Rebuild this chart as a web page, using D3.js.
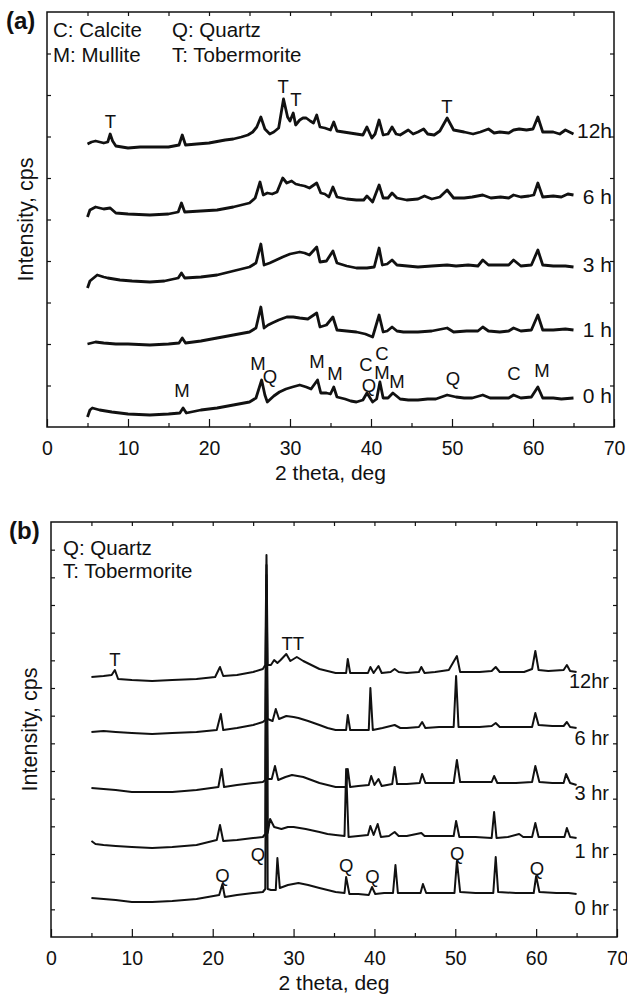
<!DOCTYPE html>
<html>
<head>
<meta charset="utf-8">
<script src="https://cdn.jsdelivr.net/npm/d3@7"></script>
<style>
  body { margin: 0; background: #fff; }
  svg text { font-family: "Liberation Sans", Arial, Helvetica, sans-serif; fill: #111; }
</style>
</head>
<body>
<svg id="chart" width="627" height="998"></svg>
<script>
// ---- data: [2theta, intensity (arbitrary units)] ----
const a12h = [[5,283],[5.5,285],[6,286],[7,284],[7.5,285],[7.8,293],[8.1,286],[8.5,281],[10,279],[11.5,280],[13,280],[15,280],[16.3,282],[16.7,292],[17.1,282],[18.5,283],[20,284],[22,287],[23,288],[24,290],[24.8,292],[25.4,295],[25.9,300],[26.4,310],[26.9,298],[27.5,293],[28,295],[28.6,299],[29.2,328],[29.7,310],[30,306],[30.4,314],[30.7,302],[31.2,307],[31.6,309],[32,309],[32.5,306],[32.9,304],[33.3,312],[33.7,300],[34.3,299],[35,297],[35.4,305],[35.8,296],[36.6,295],[37.4,294],[38.2,293],[39,292],[39.5,300],[40.1,289],[40.5,293],[41,307],[41.5,292],[42.1,293],[42.6,300],[43.1,293],[43.6,292],[44.6,297],[45.2,293],[45.8,295],[46.5,298],[47,293],[47.8,292],[48.5,296],[49.4,309],[50.2,297],[51.5,295],[52.6,293],[53.5,295],[54.5,298],[55.2,294],[55.9,295],[57,294],[57.6,297],[58.3,298],[59.2,297],[60,298],[60.6,310],[61.2,295],[62.5,295],[63.3,293],[64,297],[65,293]]
const a6h = [[5,210],[5.3,217],[6,220],[7,218],[7.8,219],[8.5,214],[10,213],[12.7,212],[15,213],[16.2,215],[16.6,224],[17,215],[19,216],[21,217],[23,220],[25,224],[25.7,229],[26.3,245],[26.7,232],[27.2,234],[27.8,233],[28.4,235],[29.1,249],[29.6,244],[30.2,246],[30.7,243],[31.2,242],[31.8,241],[32.4,239],[33.3,244],[33.8,234],[34.3,233],[34.8,230],[35.3,240],[35.8,230],[37,228],[38.2,227],[39.1,227],[39.5,231],[40.2,225],[41,242],[41.5,229],[42.1,229],[42.6,234],[43.2,229],[44.4,227],[45.8,228],[46.6,231],[47.5,228],[48.5,230],[49.4,237],[50.2,229],[51.5,229],[52.5,230],[53.8,232],[54.8,229],[56,230],[57,229],[57.6,232],[58.5,230],[59.5,231],[60.1,232],[60.6,244],[61.2,230],[62.5,231],[63.5,230],[64.3,233],[65,232]]
const a3h = [[5,139],[5.3,146],[5.6,148],[6.2,152],[7,150],[7.5,149],[9,147],[10.5,146],[12.7,145],[14.5,146],[16.2,149],[16.6,154],[17,149],[19,150],[21,152],[23,156],[25,160],[25.8,164],[26.4,183],[26.8,162],[27.5,164],[28.3,167],[29.1,170],[30,173],[31.2,175],[31.8,174],[32.4,172],[33.3,180],[33.7,165],[34.5,166],[35.3,176],[35.8,164],[37,161],[38.2,159],[39.5,159],[40.4,160],[41,179],[41.4,162],[42,163],[42.6,167],[43.2,162],[44.5,161],[45.8,160],[47.5,161],[49.4,162],[50.5,161],[52,162],[53.2,161],[53.8,167],[54.5,162],[55.9,162],[57,162],[57.6,167],[58.5,161],[59.8,162],[60.6,177],[61.2,162],[62.5,161],[64,161],[65,160]]
const a1h = [[5,83],[5.5,84],[6,85],[7,84],[8.5,83],[10,83],[12.7,82],[15,83],[16.3,84],[16.7,89],[17.1,84],[19,86],[21,89],[23,92],[25,95],[25.8,99],[26.4,120],[26.8,99],[27.3,102],[27.8,104],[28.6,107],[29.6,110],[30.4,110],[31.2,109],[32.2,108],[33.3,114],[33.7,100],[34.5,102],[35.3,110],[35.8,97],[37,96],[38.2,95],[39.3,93],[40.2,90],[41,112],[41.5,95],[42,96],[42.6,100],[43.2,96],[44,95],[45.8,95],[47.5,96],[49.4,99],[50.2,95],[51.8,96],[53.2,96],[53.8,100],[54.5,96],[55.9,95],[57,96],[57.6,99],[58.5,96],[59.8,97],[60.6,112],[61.2,97],[62.5,97],[64,98],[65,97]]
const a0h = [[5,10],[5.3,17],[5.6,19],[6.5,17],[8,15],[10,13],[12.7,12],[15,13],[16.4,14],[16.8,19],[17.2,14],[19,17],[21,19],[23,22],[25,25],[25.8,29],[26.5,47],[26.9,32],[27.2,25],[28,31],[28.7,35],[29.5,38],[30.3,40],[31.2,42],[32,40],[32.6,38],[33.4,47],[33.8,34],[34.5,34],[35,33],[35.4,40],[35.8,30],[36.8,28],[37.5,26],[38.2,25],[39,27],[39.5,34],[40.2,25],[40.7,28],[41.1,45],[41.5,29],[42.1,29],[42.7,34],[43.6,28],[44.6,27],[45.8,27],[47,28],[48,28],[49.4,32],[50.5,30],[51.5,29],[52.5,29],[53.8,32],[54.7,29],[55.9,29],[57,29],[57.6,32],[58.5,29],[59.8,30],[60.6,40],[61.2,29],[62.5,29],[63.5,28],[65,29]]

const b12 = [[5,260],[6.5,261],[7.5,262],[7.9,267],[8.3,258],[10,257],[12.5,256],[15,257],[18,258],[20.3,260],[20.9,270],[21.3,261],[23,262],[25,265],[26.2,268],[26.5,272],[26.65,382],[26.8,272],[27.2,272],[27.6,277],[28,274],[28.4,277],[29.1,283],[29.6,276],[30.4,280],[31.2,276],[32.2,272],[33.2,268],[34.2,266],[35.2,264],[36.5,264],[36.7,278],[37,264],[38,264],[39.2,264],[39.5,270],[39.9,264],[40.5,271],[40.9,264],[42,265],[42.5,268],[43,265],[44,264],[45.5,265],[45.8,270],[46.2,264],[47.5,265],[49.2,267],[50.2,281],[50.6,265],[52,265],[53,265],[54.5,266],[55,270],[55.5,265],[57,265],[58.5,265],[59.5,268],[59.9,286],[60.3,267],[61.5,266],[63.4,267],[63.8,272],[64.2,266],[65,265]]
const b6 = [[5,205],[6.5,206],[8,205],[10,204],[12.5,203],[15,204],[18,205],[20.5,207],[21,223],[21.3,207],[23,209],[25,212],[26.2,215],[26.5,217],[26.65,372],[26.8,218],[27.4,216],[27.8,228],[28.2,218],[29.1,221],[30,220],[30.6,219],[31.8,216],[33.2,212],[34.2,209],[35.2,207],[36.5,207],[36.7,222],[37,207],[38,207],[39.3,207],[39.5,249],[39.8,207],[41,209],[42.5,212],[43.2,209],[44,209],[45.5,210],[45.9,215],[46.3,209],[48,210],[49.8,210],[50.1,261],[50.4,210],[51.5,210],[53,210],[54.5,211],[55,214],[55.5,210],[57.5,210],[59.5,210],[59.9,224],[60.3,212],[62,211],[63.4,211],[63.8,215],[64.2,210],[65,209]]
const b3 = [[5,149],[6.5,148],[8,147],[10,145],[12.5,145],[15,145],[18,147],[20.7,150],[21.1,168],[21.4,150],[23,152],[25,154],[26.2,155],[26.5,157],[26.65,362],[26.8,158],[27.3,158],[27.7,171],[28.1,157],[29,160],[29.8,162],[30.5,161],[31.2,160],[32.2,157],[33.2,154],[34.2,152],[35.2,150],[36.5,150],[36.7,168],[37,150],[38,151],[39.3,152],[39.6,161],[40,152],[40.5,158],[40.9,151],[42.2,153],[42.5,170],[42.8,153],[44,153],[45.6,154],[45.9,163],[46.3,154],[48,154],[49.8,154],[50.2,177],[50.6,155],[52.5,155],[54.5,155],[54.8,161],[55.2,154],[57.5,154],[59.5,155],[59.9,171],[60.4,155],[62,154],[63.4,154],[63.7,163],[64.2,154],[65,152]]
const b1 = [[5,96],[5.5,93],[6.5,92],[8,91],[10,90],[12.5,89],[15,90],[18,92],[20.5,97],[20.9,112],[21.3,96],[23,97],[25,99],[26.2,100],[26.5,103],[26.65,352],[26.8,104],[27.1,118],[27.6,110],[28.5,108],[29.3,110],[30,110],[31.5,108],[33.2,105],[34.2,103],[35.2,102],[36.3,101],[36.5,168],[36.8,100],[38,101],[39.2,102],[39.5,111],[39.9,102],[40.4,113],[40.8,100],[41.8,101],[42.5,105],[43,101],[44,101],[45.8,104],[46.2,101],[48,101],[49.8,101],[50.1,116],[50.5,100],[52.5,100],[54.5,99],[54.8,125],[55.1,99],[56.5,100],[57.9,103],[58.4,100],[59.5,100],[59.9,114],[60.3,100],[62,100],[63.5,100],[63.8,109],[64.2,100],[65,99]]
const b0 = [[5,39],[6.5,38],[8,37],[10,35],[12.5,35],[15,36],[18,38],[20.8,42],[21.2,53],[21.5,40],[23,42],[25,44],[26.2,45],[26.5,48],[26.65,342],[26.8,48],[27.2,47],[27.8,47],[28,79],[28.3,49],[29.3,52],[30.6,54],[31.8,52],[33.2,49],[34.2,47],[35.2,45],[36.3,44],[36.5,60],[36.9,43],[38,43],[39.3,42],[39.7,50],[40.1,43],[41.2,44],[42.3,44],[42.6,72],[42.9,44],[44.2,44],[45.7,44],[46,53],[46.4,44],[48,44],[49.9,44],[50.2,76],[50.6,45],[52.5,44],[54.7,44],[55,80],[55.3,45],[57.5,44],[59.7,44],[60,61],[60.4,45],[62.5,44],[64,44],[65,43]]

const seriesA = [a12h, a6h, a3h, a1h, a0h]
const seriesB = [b12, b6, b3, b1, b0]
const namesA = ['12h', '6 h', '3 h', '1 h', '0 h']
const namesB = ['12hr', '6 hr', '3 hr', '1 hr', '0 hr']
const nameLevelA = [289, 223, 155, 90, 24]
const nameLevelB = [249, 192, 137, 79, 22]

const legendA = [['C: Calcite', 'Q: Quartz'], ['M: Mullite', 'T: Tobermorite']]
const legendB = ['Q: Quartz', 'T: Tobermorite']

// peak marks [2theta, intensity, text]
const peaksA = [[7.84,299,'T'],[29.14,334,'T'],[30.74,321,'T'],[49.38,314,'T'],
  [16.67,30,'M'],[26.05,57,'M'],[27.53,44,'Q'],[33.33,59,'M'],[35.56,47,'M'],
  [39.38,56,'C'],[39.75,35,'Q'],[41.36,67,'C'],[41.36,48,'M'],[43.21,39,'M'],
  [50.12,42,'Q'],[57.65,47,'C'],[61.11,50,'M']]
const peaksB = [[7.9,271,'T'],[29.9,287,'TT'],[21.2,55,'Q'],[25.6,76,'Q'],
  [36.5,65,'Q'],[39.75,54,'Q'],[50.25,77,'Q'],[60.1,62,'Q']]

const xTicks = [0, 10, 20, 30, 40, 50, 60, 70]

const svg = d3.select('#chart')

const drawPanel = (cfg) => {
    const x = d3.scaleLinear().domain([0, 70]).range([cfg.left, cfg.right])
    const y = d3.scaleLinear().domain([0, 415]).range([cfg.bottom, cfg.top])
    const g = svg.append('g')

    // traces
    const line = d3.line().x(d => x(d[0])).y(d => y(d[1]))
    cfg.series.forEach(s => {
        g.append('path').datum(s)
            .attr('fill', 'none')
            .attr('stroke', '#111')
            .attr('stroke-width', cfg.sw)
            .attr('stroke-linejoin', 'round')
            .attr('d', line)
    })

    // axes, ticks inside on all four sides
    const minor = d3.range(5, 70, 10)
    const yt = d3.range(cfg.yStep, 414, cfg.yStep)
    g.append('g').attr('transform', `translate(0,${cfg.bottom})`)
        .call(d3.axisBottom(x).tickValues(xTicks).tickSize(-8).tickPadding(14).tickFormat(d3.format('d')))
        .call(a => a.select('.domain').remove())
    g.append('g').attr('transform', `translate(0,${cfg.bottom})`)
        .call(d3.axisBottom(x).tickValues(minor).tickSize(-4).tickFormat(''))
        .call(a => a.select('.domain').remove())
    g.append('g').attr('transform', `translate(0,${cfg.top})`)
        .call(d3.axisTop(x).tickValues(d3.range(5, 70, 5)).tickSize(-4).tickFormat(''))
        .call(a => a.select('.domain').remove())
    g.append('g').attr('transform', `translate(${cfg.left},0)`)
        .call(d3.axisLeft(y).tickValues(yt).tickSize(-4).tickFormat(''))
        .call(a => a.select('.domain').remove())
    g.append('g').attr('transform', `translate(${cfg.right},0)`)
        .call(d3.axisRight(y).tickValues(yt).tickSize(-4).tickFormat(''))
        .call(a => a.select('.domain').remove())
    g.selectAll('.tick line').attr('stroke', '#111').attr('stroke-width', 1.2)
    g.selectAll('.tick text').attr('font-size', 19.5).attr('fill', '#111')
        .attr('font-family', '"Liberation Sans", Arial, sans-serif')

    g.append('rect')
        .attr('x', cfg.left).attr('y', cfg.top)
        .attr('width', cfg.right - cfg.left).attr('height', cfg.bottom - cfg.top)
        .attr('fill', 'none').attr('stroke', '#111').attr('stroke-width', 1.5)

    // series names
    cfg.names.forEach((n, i) => {
        g.append('text').attr('x', cfg.nameX).attr('y', y(cfg.nameLevel[i]))
            .attr('text-anchor', 'end').attr('font-size', cfg.nameSize).text(n)
    })

    // peak labels
    g.selectAll('.peak').data(cfg.peaks).enter().append('text')
        .attr('class', 'peak')
        .attr('x', d => x(d[0])).attr('y', d => y(d[1]))
        .attr('text-anchor', 'middle').attr('font-size', 18.5)
        .text(d => d[2])

    // axis titles
    g.append('text').attr('x', (cfg.left + cfg.right) / 2).attr('y', cfg.bottom + 53)
        .attr('text-anchor', 'middle').attr('font-size', 21).text('2 theta, deg')
    g.append('text')
        .attr('transform', `translate(${cfg.ylabX},${(cfg.top + cfg.bottom) / 2}) rotate(-90)`)
        .attr('text-anchor', 'middle').attr('font-size', 21.5).text('Intensity, cps')

    // panel letter
    g.append('text').attr('x', cfg.letterX).attr('y', cfg.top + 17)
        .attr('font-family', '"Liberation Serif", "Times New Roman", serif')
        .attr('font-weight', 'bold').attr('font-size', 24).text(cfg.letter)

    return g
}

const ga = drawPanel({
    left: 47, right: 614, top: 12, bottom: 427, yStep: 41.5, sw: 2.8,
    series: seriesA, names: namesA, nameLevel: nameLevelA, nameX: 612, nameSize: 21,
    peaks: peaksA, ylabX: 33, letterX: 6, letter: '(a)'
})
legendA.forEach((row, i) => {
    ga.append('text').attr('x', 53).attr('y', 37 + i * 25).attr('font-size', 20.5).text(row[0])
    ga.append('text').attr('x', 172).attr('y', 37 + i * 25).attr('font-size', 20.5).text(row[1])
})

const gb = drawPanel({
    left: 51, right: 617, top: 522, bottom: 937, yStep: 415 / 15, sw: 2,
    series: seriesB, names: namesB, nameLevel: nameLevelB, nameX: 609, nameSize: 20,
    peaks: peaksB, ylabX: 37, letterX: 9, letter: '(b)'
})
legendB.forEach((t, i) => {
    gb.append('text').attr('x', 63).attr('y', 555 + i * 23).attr('font-size', 20.5).text(t)
})
</script>
</body>
</html>
